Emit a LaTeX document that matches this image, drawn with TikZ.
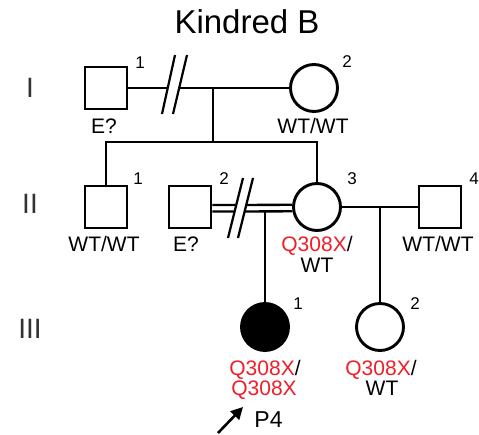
\documentclass[tikz,border=0pt]{standalone}
\usepackage{fontspec}
\setmainfont{Liberation Sans}
\usetikzlibrary{arrows.meta}
\definecolor{mutred}{RGB}{240,30,40}
\begin{document}
\begin{tikzpicture}[x=1pt,y=-1pt,line width=2.9pt,
  male/.style={draw,rectangle,minimum size=42pt,inner sep=0pt},
  female/.style={draw,circle,minimum size=47pt,inner sep=0pt},
  geno/.style={anchor=base,inner sep=0pt,font=\fontsize{21}{21}\selectfont},
  idx/.style={inner sep=0pt,font=\fontsize{17}{17}\selectfont},
  gen/.style={anchor=base,inner sep=0pt,text=black!80,font=\fontsize{28}{28}\selectfont},
  brk/.style={line width=2.2pt}]
\useasboundingbox (0,0) rectangle (479,435);
\node[anchor=base,inner sep=0pt,font=\fontsize{33}{33}\selectfont] (title) at (247,34) {Kindred B};
% generations
\node[gen] (gI) at (30,98) {I};
\node[gen] (gII) at (30,214) {II};
\node[gen] (gIII) at (30,338) {III};
% persons
\node[male] (I1) at (106,88) {};
\node[female] (I2) at (314,88) {};
\node[male] (II1) at (106,207) {};
\node[male] (II2) at (190,207) {};
\node[female] (II3) at (317,207) {};
\node[male] (II4) at (440,207) {};
\node[female,fill=black] (III1) at (265,327) {};
\node[female] (III2) at (380,327) {};
% lines
\coordinate (m1) at (213,88);
\coordinate (s1) at (213,142);
\coordinate (d2) at (265,211.5);
\coordinate (d3) at (380,207);
\draw (I1.east) -- (I2.west);
\draw (m1) -- (s1);
\draw (II1.north) |- (s1) -| (II3.north);
\draw[line width=2.3pt] ([yshift=2pt]II2.east) -- (II3.175);
\draw[line width=2.3pt] ([yshift=-4.5pt]II2.east) -- (II3.190);
\draw (II3.east) -- (II4.west);
\draw (d2) -- (III1.north);
\draw (d3) -- (III2.north);
% separations
\fill[white] (163,113) -- (175,56) -- (186,56) -- (173,113) -- cycle;
\draw[brk] (162,114) -- (175,55);
\draw[brk] (173,114) -- (187,55);
\fill[white] (229,237) -- (243,179) -- (252,179) -- (238,237) -- cycle;
\draw[brk] (228,238) -- (243,178);
\draw[brk] (238,238) -- (253,178);
% numbers
\node[idx] (nI1) at (140,63) {1};
\node[idx] (nI2) at (347,62) {2};
\node[idx] (nII1) at (138,179) {1};
\node[idx] (nII2) at (224,179) {2};
\node[idx] (nII3) at (352,179) {3};
\node[idx] (nII4) at (474,179) {4};
\node[idx] (nIII1) at (298,304) {1};
\node[idx] (nIII2) at (415,304) {2};
% genotypes
\node[geno] (tI1) at (104,134) {E?};
\node[geno] (tI2) at (313,134) {WT/WT};
\node[geno] (tII1) at (104,252) {WT/WT};
\node[geno] (tII2) at (186,252) {E?};
\node[geno] (tII3a) at (317,252) {\textcolor{mutred}{Q308X}/};
\node[geno] (tII3b) at (317,273) {WT};
\node[geno] (tII4) at (438,252) {WT/WT};
\node[geno] (tIII1a) at (265,375) {\textcolor{mutred}{Q308X}/};
\node[geno] (tIII1b) at (264,395) {\textcolor{mutred}{Q308X}};
\node[geno] (tIII2a) at (381,375) {\textcolor{mutred}{Q308X}/};
\node[geno] (tIII2b) at (382,395) {WT};
% proband
\node[anchor=base west,inner sep=0pt,font=\fontsize{23}{23}\selectfont] (p4) at (253,427) {P4};
\coordinate (ptail) at (218,433);
\coordinate (phead) at (243,407);
\draw[-{Triangle[length=12pt,width=12pt]},line width=2.6pt] (ptail) -- (phead);
\end{tikzpicture}
\end{document}
